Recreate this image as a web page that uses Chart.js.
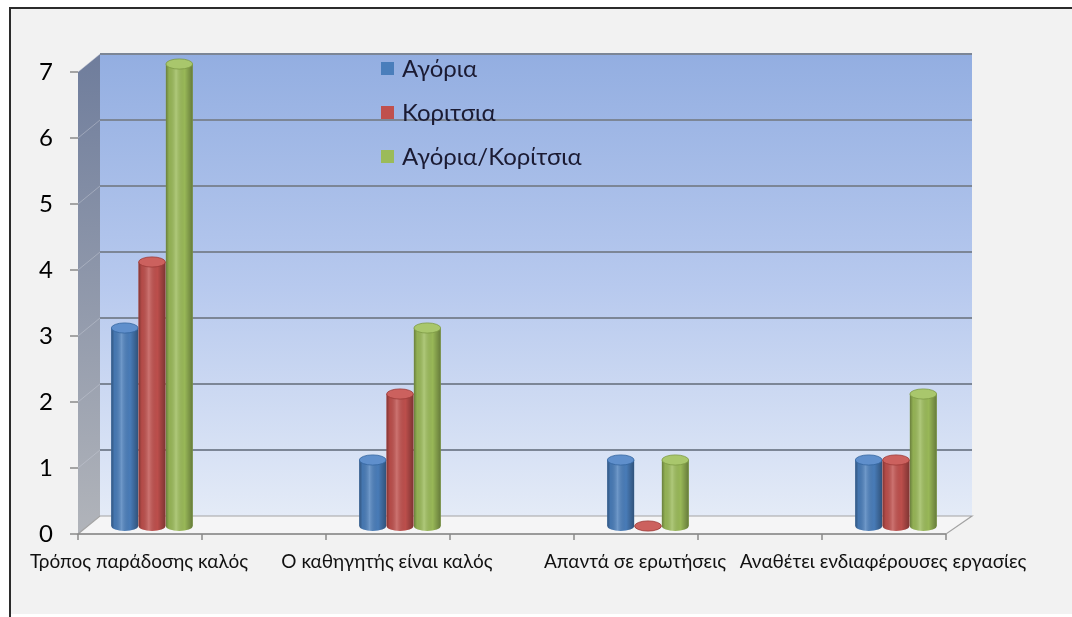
<!DOCTYPE html>
<html>
<head>
<meta charset="utf-8">
<script src="https://cdn.jsdelivr.net/npm/chart.js@4/dist/chart.umd.min.js"></script>
<style>
  html, body { margin: 0; padding: 0; background: #fff; }
  canvas { display: block; }
</style>
</head>
<body>
<canvas id="myChart" width="1072" height="617"></canvas>
<script>
// categories (empty slots are the unlabeled gaps between groups)
const categories = [
  'Τρόπος παράδοσης καλός', '',
  'Ο καθηγητής είναι καλός', '',
  'Απαντά σε ερωτήσεις', '',
  'Αναθέτει ενδιαφέρουσες εργασίες'
];
const seriesNames = ['Αγόρια', 'Κοριτσια', 'Αγόρια/Κορίτσια'];
const boys = [3, null, 1, null, 1, null, 1];
const girls = [4, null, 2, null, 0, null, 1];
const both = [7, null, 3, null, 1, null, 2];
const yTicks = [0, 1, 2, 3, 4, 5, 6, 7];

const colors = ['#4a7ebb', '#c0504d', '#9bbb59'];
const capColors = ['#5f8fcc', '#cc615e', '#a9c76c'];
const edgeColors = ['#35669f', '#9c3a37', '#7d9b45'];
const FONT = 'Lato, "Noto Sans", sans-serif';

// depth offsets of the fake 3d box
const FRONT_DY = 8, BACK_DY = -10, FRONT_DX = -12, BACK_DX = 10;

const frame3d = {
  id: 'frame3d',
  beforeDraw(chart) {
    const ctx = chart.ctx;
    const x = chart.scales.x, y = chart.scales.y;
    const yMin = yTicks[0], yMax = yTicks[yTicks.length - 1];
    const half = (x.getPixelForValue(1) - x.getPixelForValue(0)) / 2;
    const fl = x.getPixelForValue(0) - half + FRONT_DX;
    const fr = x.getPixelForValue(categories.length) - half + FRONT_DX;
    const bl = x.left + BACK_DX;
    const br = x.right + BACK_DX + 4;
    const yF = v => y.getPixelForValue(v) + FRONT_DY;
    const yB = v => y.getPixelForValue(v) + BACK_DY;

    ctx.save();
    // page + frame
    ctx.fillStyle = '#ffffff';
    ctx.fillRect(0, 0, chart.width, chart.height);
    ctx.fillStyle = '#f2f2f2';
    ctx.fillRect(11, 9, chart.width - 11, chart.height - 12);
    ctx.strokeStyle = '#2b2b2b';
    ctx.lineWidth = 2;
    ctx.beginPath();
    ctx.moveTo(10, chart.height);
    ctx.lineTo(10, 8);
    ctx.lineTo(chart.width, 8);
    ctx.stroke();

    // back wall
    let g = ctx.createLinearGradient(0, yB(yMax), 0, yB(yMin));
    g.addColorStop(0, '#93aee1');
    g.addColorStop(0.5, '#b7c9ee');
    g.addColorStop(1, '#e4ebf7');
    ctx.fillStyle = g;
    ctx.fillRect(bl, yB(yMax), br - bl, yB(yMin) - yB(yMax));

    // side wall
    g = ctx.createLinearGradient(0, yB(yMax), 0, yF(yMin));
    g.addColorStop(0, '#6f7d9c');
    g.addColorStop(1, '#b1b4ba');
    ctx.fillStyle = g;
    ctx.beginPath();
    ctx.moveTo(fl, yF(yMax));
    ctx.lineTo(bl, yB(yMax));
    ctx.lineTo(bl, yB(yMin));
    ctx.lineTo(fl, yF(yMin));
    ctx.closePath();
    ctx.fill();

    // gridlines
    yTicks.forEach(v => {
      if (v === yMin) return;
      ctx.strokeStyle = '#7c8696';
      ctx.lineWidth = 2;
      ctx.beginPath();
      ctx.moveTo(bl, yB(v));
      ctx.lineTo(br, yB(v));
      ctx.stroke();
      ctx.strokeStyle = 'rgba(200,205,215,0.45)';
      ctx.lineWidth = 1;
      ctx.beginPath();
      ctx.moveTo(fl, yF(v));
      ctx.lineTo(bl, yB(v));
      ctx.stroke();
    });

    // floor
    ctx.fillStyle = '#f5f5f6';
    ctx.strokeStyle = '#a3a3a3';
    ctx.lineWidth = 1.2;
    ctx.beginPath();
    ctx.moveTo(fl, yF(yMin));
    ctx.lineTo(fr, yF(yMin));
    ctx.lineTo(br, yB(yMin));
    ctx.lineTo(bl, yB(yMin));
    ctx.closePath();
    ctx.fill();
    ctx.stroke();

    // front axis lines and tick marks
    ctx.strokeStyle = '#8a8a8a';
    ctx.lineWidth = 1.5;
    ctx.beginPath();
    ctx.moveTo(fl - 8, yF(yMin));
    ctx.lineTo(fr, yF(yMin));
    yTicks.forEach(v => {
      ctx.moveTo(fl - 8, yF(v));
      ctx.lineTo(fl, yF(v));
    });
    for (let i = 0; i <= categories.length; i++) {
      const px = x.getPixelForValue(i) - half + FRONT_DX;
      ctx.moveTo(px, yF(yMin));
      ctx.lineTo(px, yF(yMin) + 6);
    }
    ctx.stroke();
    ctx.restore();
  },
  afterDatasetsDraw(chart) {
    const ctx = chart.ctx;
    ctx.save();
    chart.data.datasets.forEach((ds, di) => {
      const meta = chart.getDatasetMeta(di);
      meta.data.forEach((el, i) => {
        if (ds.data[i] === null) return;
        const p = el.getProps(['x', 'y', 'base', 'width'], true);
        const w2 = p.width / 2;
        const ry = Math.max(3, p.width * 0.19);
        const left = p.x - w2, right = p.x + w2;

        // body with rounded bottom
        ctx.beginPath();
        ctx.moveTo(left, p.y);
        ctx.lineTo(left, p.base);
        ctx.ellipse(p.x, p.base, w2, ry, 0, Math.PI, 0, true);
        ctx.lineTo(right, p.y);
        ctx.closePath();
        ctx.fillStyle = colors[di];
        ctx.fill();
        const sh = ctx.createLinearGradient(left, 0, right, 0);
        sh.addColorStop(0, 'rgba(0,0,0,0.32)');
        sh.addColorStop(0.12, 'rgba(0,0,0,0.06)');
        sh.addColorStop(0.38, 'rgba(255,255,255,0.2)');
        sh.addColorStop(0.7, 'rgba(0,0,0,0.02)');
        sh.addColorStop(1, 'rgba(0,0,0,0.34)');
        ctx.fillStyle = sh;
        ctx.fill();

        // top cap
        ctx.beginPath();
        ctx.ellipse(p.x, p.y, w2, ry, 0, 0, Math.PI * 2);
        ctx.fillStyle = capColors[di];
        ctx.fill();
        ctx.strokeStyle = edgeColors[di];
        ctx.lineWidth = 0.8;
        ctx.stroke();
      });
    });
    ctx.restore();
  },
  afterDraw(chart) {
    // legend inside the plot
    const ctx = chart.ctx;
    ctx.save();
    ctx.font = '24px ' + FONT;
    ctx.textBaseline = 'middle';
    ctx.textAlign = 'left';
    chart.data.datasets.forEach((ds, i) => {
      const cy = 68 + i * 44;
      ctx.fillStyle = colors[i];
      ctx.fillRect(381, cy - 6, 13, 13);
      ctx.fillStyle = '#1b1b33';
      ctx.fillText(ds.label, 402, cy + 1);
    });
    ctx.restore();
  }
};

new Chart('myChart', {
  type: 'bar',
  data: {
    labels: categories,
    datasets: [
      { label: seriesNames[0], data: boys, backgroundColor: colors[0] },
      { label: seriesNames[1], data: girls, backgroundColor: colors[1] },
      { label: seriesNames[2], data: both, backgroundColor: colors[2] }
    ]
  },
  options: {
    responsive: false,
    devicePixelRatio: 1,
    animation: false,
    layout: { padding: { top: 64, right: 114, bottom: 0, left: 0 } },
    datasets: {
      bar: { categoryPercentage: 0.66, barPercentage: 0.98, borderWidth: 0 }
    },
    plugins: {
      legend: { display: false },
      tooltip: { enabled: false }
    },
    scales: {
      x: {
        grid: { display: false, drawTicks: false },
        border: { display: false },
        afterFit(s) { s.height = 91; },
        ticks: {
          autoSkip: false,
          maxRotation: 0,
          padding: 24,
          labelOffset: -13,
          color: '#111',
          font: { family: FONT, size: 19 }
        }
      },
      y: {
        min: yTicks[0],
        max: yTicks[yTicks.length - 1],
        grid: { display: false, drawTicks: false },
        border: { display: false },
        afterFit(s) { s.width = 90; },
        ticks: {
          stepSize: 1,
          padding: 37,
          labelOffset: 8,
          color: '#000',
          font: { family: FONT, size: 24 }
        }
      }
    }
  },
  plugins: [frame3d]
});
</script>
</body>
</html>
